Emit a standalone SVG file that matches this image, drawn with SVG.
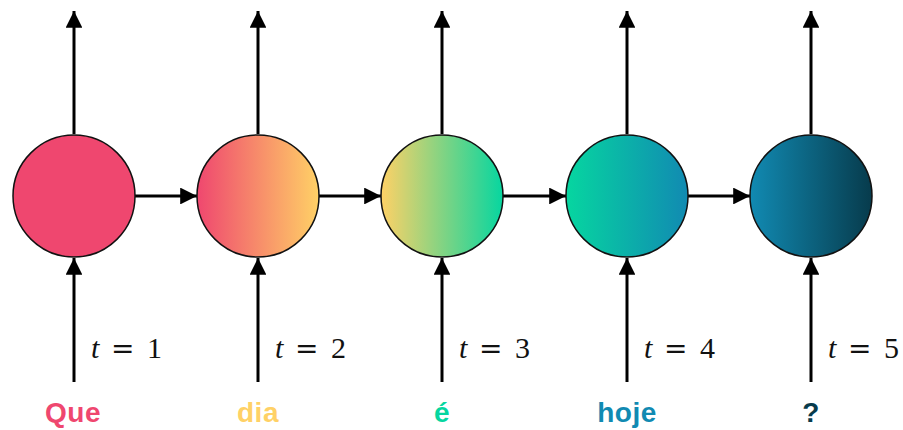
<svg xmlns="http://www.w3.org/2000/svg" width="903" height="430" viewBox="0 0 903 430">
<defs>
<marker id="ah" viewBox="0 0 10 10" refX="10" refY="5" markerWidth="5.6" markerHeight="5.6" markerUnits="strokeWidth" orient="auto"><path d="M0,0 L10,5 L0,10 Z" fill="#000"/></marker>
<linearGradient id="g2" x1="0" y1="0" x2="1" y2="0"><stop offset="0" stop-color="#EF476F"/><stop offset="1" stop-color="#FFD166"/></linearGradient>
<linearGradient id="g3" x1="0" y1="0" x2="1" y2="0"><stop offset="0" stop-color="#FFD166"/><stop offset="1" stop-color="#06D6A0"/></linearGradient>
<linearGradient id="g4" x1="0" y1="0" x2="1" y2="0"><stop offset="0" stop-color="#06D6A0"/><stop offset="1" stop-color="#118AB2"/></linearGradient>
<linearGradient id="g5" x1="0" y1="0" x2="1" y2="0"><stop offset="0" stop-color="#118AB2"/><stop offset="1" stop-color="#073B4C"/></linearGradient>
</defs>
<style>
.c{stroke:#111;stroke-width:1.5}
.e{stroke:#000;stroke-width:3;fill:none;marker-end:url(#ah)}
.w{font-family:"Liberation Sans",Arial,sans-serif;font-weight:bold;font-size:28px;letter-spacing:0.5px;text-anchor:middle}
.m{font-family:"Liberation Serif","DejaVu Serif",serif;font-size:30px;fill:#111}
.i{font-style:italic}
.q{font-family:"DejaVu Serif",serif;font-size:28px}
</style>
<g id="connectors">
<line class="e" x1="74" y1="134" x2="74" y2="11"/>
<line class="e" x1="258" y1="134" x2="258" y2="11"/>
<line class="e" x1="442" y1="134" x2="442" y2="11"/>
<line class="e" x1="627" y1="134" x2="627" y2="11"/>
<line class="e" x1="811" y1="134" x2="811" y2="11"/>
<line class="e" x1="74" y1="382" x2="74" y2="258"/>
<line class="e" x1="258" y1="382" x2="258" y2="258"/>
<line class="e" x1="442" y1="382" x2="442" y2="258"/>
<line class="e" x1="627" y1="382" x2="627" y2="258"/>
<line class="e" x1="811" y1="382" x2="811" y2="258"/>
<line class="e" x1="135" y1="196" x2="197" y2="196"/>
<line class="e" x1="319" y1="196" x2="381" y2="196"/>
<line class="e" x1="503" y1="196" x2="566" y2="196"/>
<line class="e" x1="688" y1="196" x2="750" y2="196"/>
</g>
<g id="n1"><circle class="c" cx="74" cy="196" r="61" fill="#EF476F"/><text class="w" x="73" y="422" fill="#EF476F">Que</text><text class="m" y="358"><tspan class="i" x="91">t</tspan><tspan class="q" x="111">=</tspan><tspan x="147">1</tspan></text></g>
<g id="n2"><circle class="c" cx="258" cy="196" r="61" fill="url(#g2)"/><text class="w" x="258" y="422" fill="#FFD166">dia</text><text class="m" y="358"><tspan class="i" x="275">t</tspan><tspan class="q" x="295">=</tspan><tspan x="331">2</tspan></text></g>
<g id="n3"><circle class="c" cx="442" cy="196" r="61" fill="url(#g3)"/><text class="w" x="442" y="422" fill="#06D6A0">é</text><text class="m" y="358"><tspan class="i" x="459">t</tspan><tspan class="q" x="479">=</tspan><tspan x="515">3</tspan></text></g>
<g id="n4"><circle class="c" cx="627" cy="196" r="61" fill="url(#g4)"/><text class="w" x="627" y="422" fill="#118AB2">hoje</text><text class="m" y="358"><tspan class="i" x="644">t</tspan><tspan class="q" x="664">=</tspan><tspan x="700">4</tspan></text></g>
<g id="n5"><circle class="c" cx="811" cy="196" r="61" fill="url(#g5)"/><text class="w" x="811" y="422" fill="#073B4C">?</text><text class="m" y="358"><tspan class="i" x="828">t</tspan><tspan class="q" x="848">=</tspan><tspan x="884">5</tspan></text></g>
</svg>
